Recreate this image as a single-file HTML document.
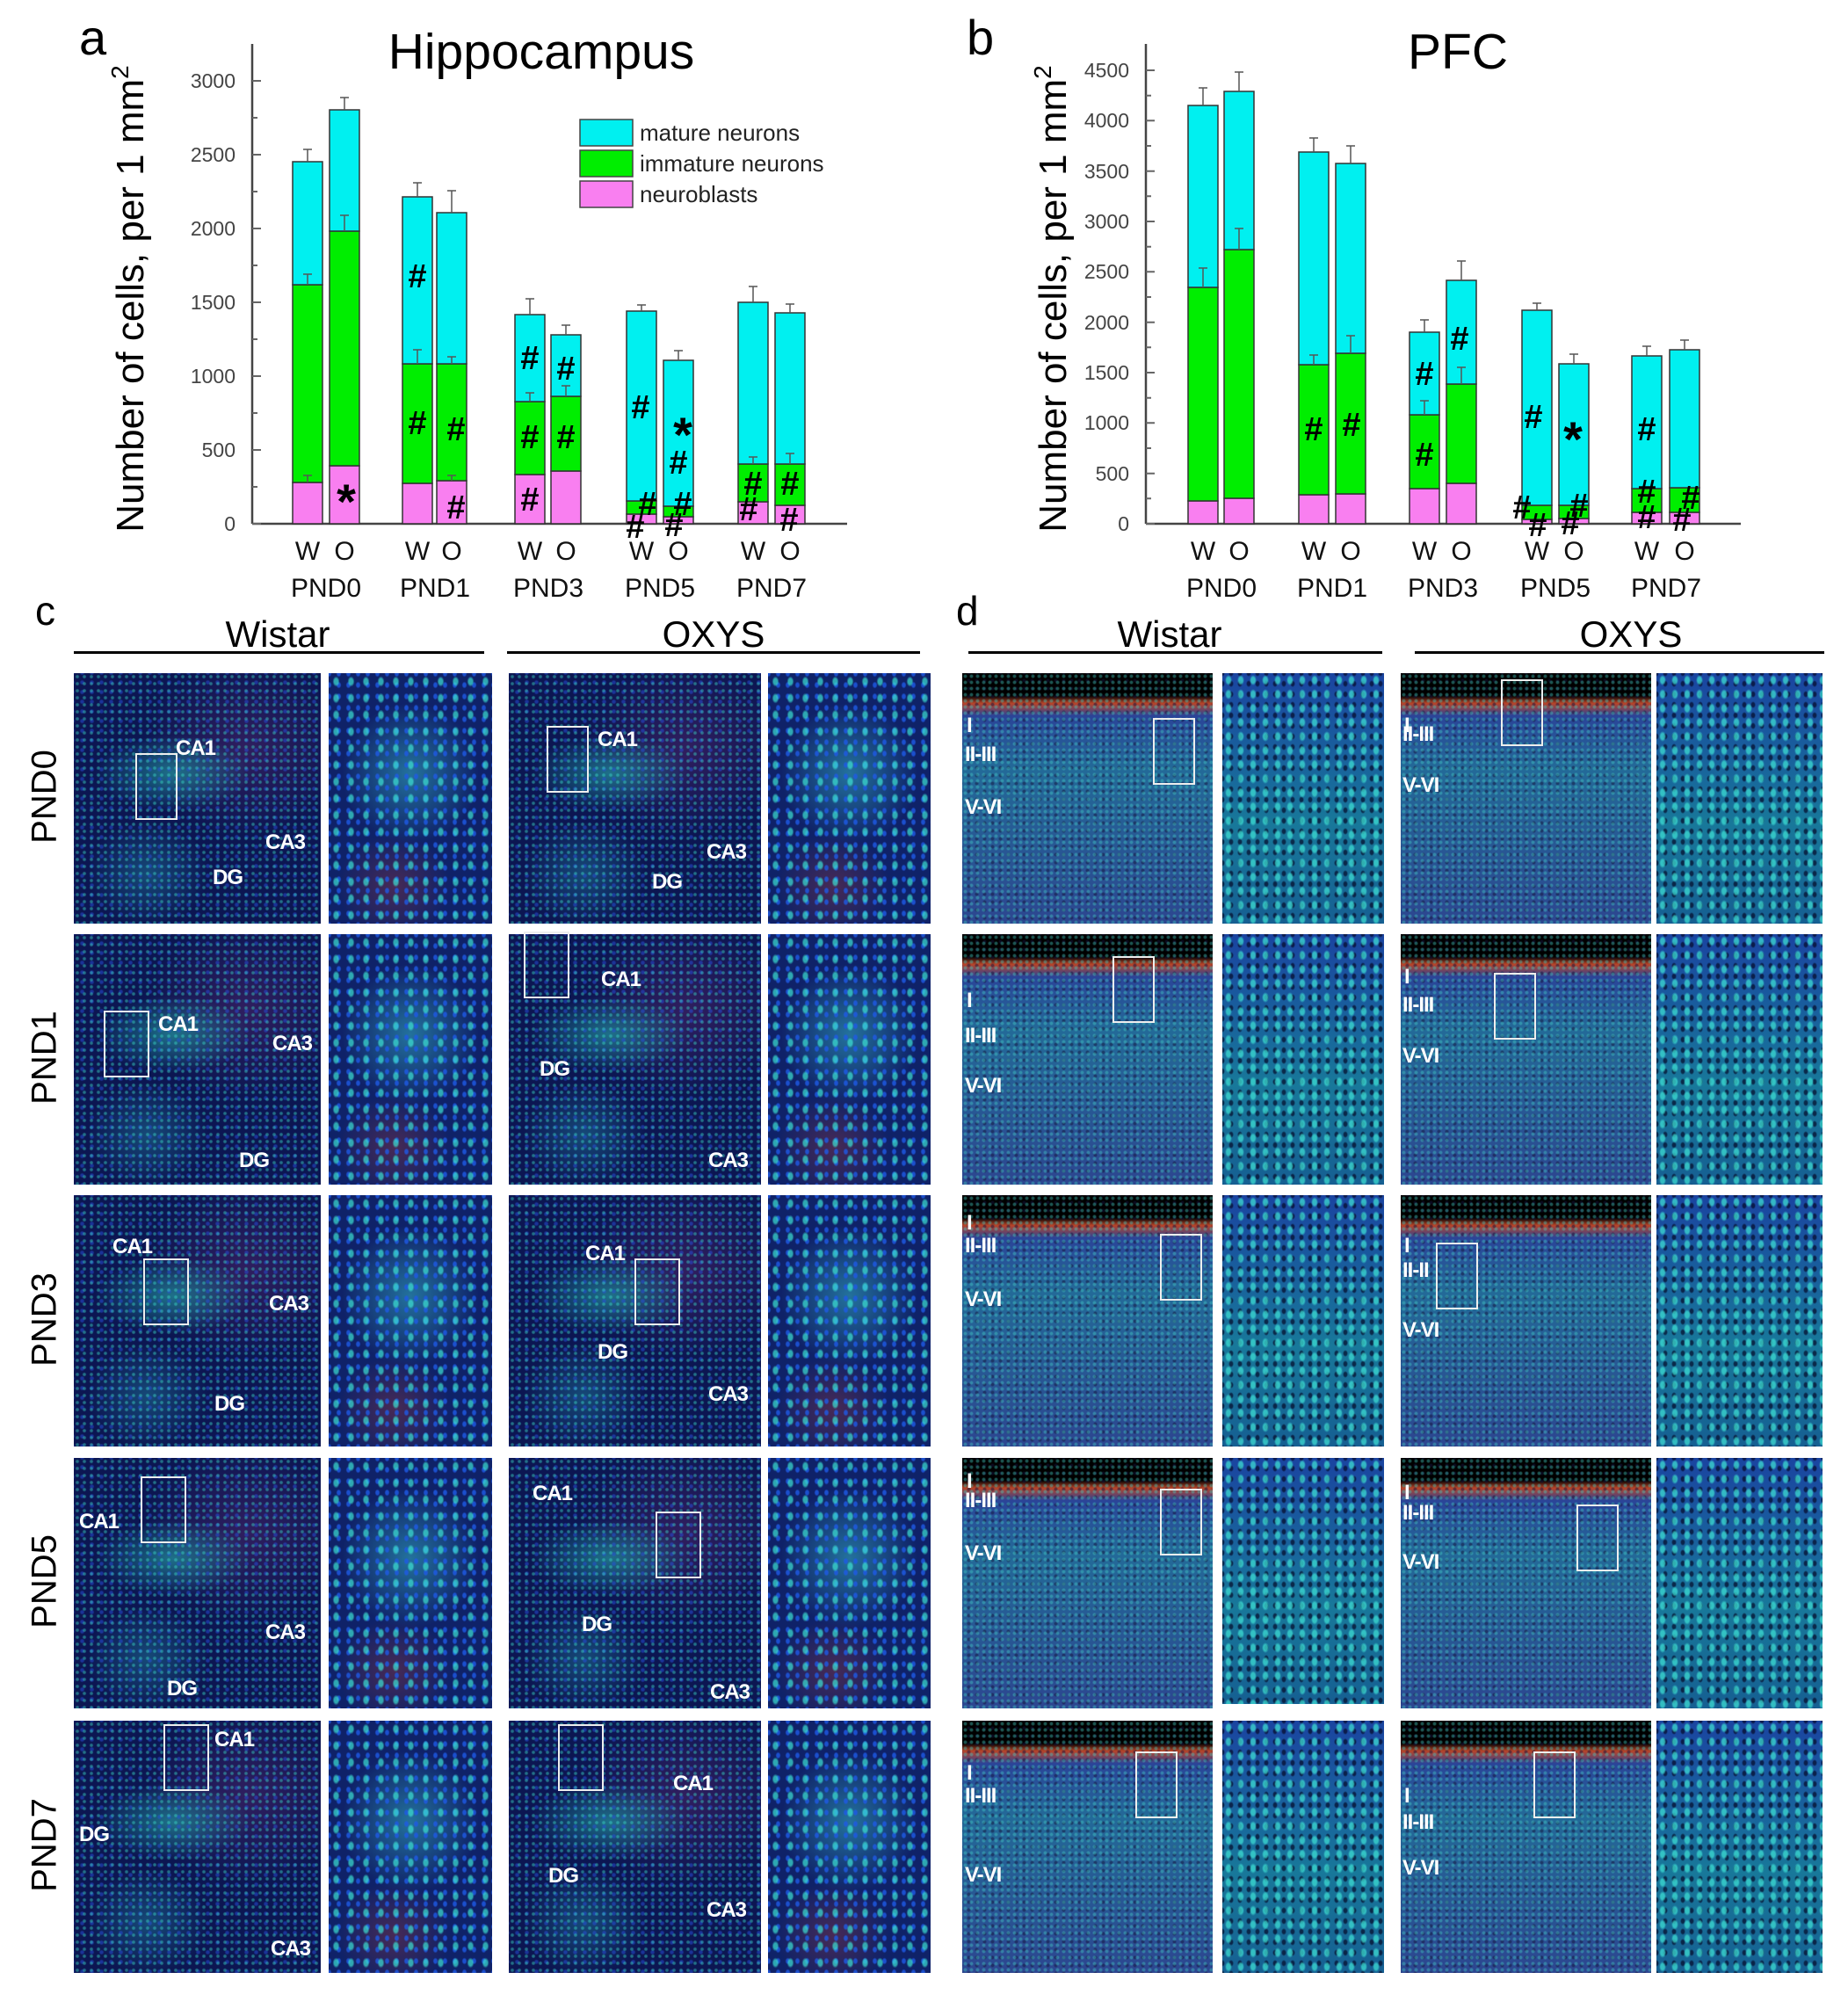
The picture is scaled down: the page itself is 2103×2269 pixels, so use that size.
<!DOCTYPE html>
<html><head><meta charset="utf-8">
<style>
html,body{margin:0;padding:0;background:#fff;}
body{width:2103px;height:2269px;position:relative;overflow:hidden;font-family:"Liberation Sans",sans-serif;}
.p{position:absolute;overflow:hidden;}
.hb{background-color:#0c1652;
background-image:radial-gradient(circle,rgba(60,220,200,.45) 1.2px,transparent 2.5px),
radial-gradient(circle,rgba(40,80,220,.5) 1.5px,transparent 3px),
radial-gradient(ellipse 45% 22% at 40% 40%,rgba(40,200,190,.5),transparent 70%),
radial-gradient(ellipse 35% 30% at 30% 80%,rgba(40,170,190,.35),transparent 70%),
radial-gradient(ellipse 60% 50% at 70% 30%,rgba(90,40,110,.45),transparent 70%);
background-size:8px 8px,11px 11px,100% 100%,100% 100%,100% 100%;background-position:0 0,4px 5px,0 0,0 0,0 0;}
.hs{background-color:#0f2268;
background-image:radial-gradient(ellipse 4px 6px,rgba(60,225,210,.7) 55%,transparent 100%),
radial-gradient(ellipse 3px 4px,rgba(30,90,230,.8) 55%,transparent 100%),
radial-gradient(ellipse 60% 40% at 50% 40%,rgba(60,210,220,.45),transparent 70%),
radial-gradient(ellipse 50% 30% at 40% 85%,rgba(200,60,40,.3),transparent 70%);
background-size:17px 19px,11px 13px,100% 100%,100% 100%;background-position:0 0,6px 7px,0 0,0 0;}
.cb{background-color:#1e3c84;
background-image:radial-gradient(circle,rgba(70,210,200,.4) 1.3px,transparent 2.6px),
radial-gradient(circle,rgba(20,20,60,.5) 1.3px,transparent 2.6px),
linear-gradient(to bottom,#000 0,#000 9%,#b84428 12%,#2a4498 17%,#236a98 38%,#2c4690 100%);
background-size:7px 7px,9px 9px,100% 100%;background-position:0 0,3px 4px,0 0;}
.cs{background-color:#123c88;
background-image:radial-gradient(ellipse 4px 6px,rgba(60,220,210,.75) 55%,transparent 100%),
radial-gradient(ellipse 3px 4px,rgba(5,10,40,.7) 55%,transparent 100%),
linear-gradient(to bottom,#1a44a0,#18789a 60%,#165f92);
background-size:14px 16px,10px 12px,100% 100%;background-position:0 0,5px 6px,0 0;}
.lb{position:absolute;color:#fff;font-weight:bold;font-size:24px;letter-spacing:-1px;}
.bx{position:absolute;border:2px solid #eee;}
.hd{position:absolute;font-size:42px;text-align:center;}
.ln{position:absolute;height:3px;background:#000;}
.rl{position:absolute;font-size:40px;transform:rotate(-90deg);transform-origin:center;width:200px;text-align:center;}
</style></head><body>

<svg width="2103" height="700" style="position:absolute;left:0;top:0" font-family="Liberation Sans, sans-serif">
<text x="90" y="62" font-size="56">a</text>
<text x="616" y="78" font-size="57" text-anchor="middle">Hippocampus</text>
<text x="1100" y="62" font-size="56">b</text>
<text x="1659" y="78" font-size="57" text-anchor="middle">PFC</text>
<text transform="translate(163,340) rotate(-90)" font-size="44" text-anchor="middle">Number of cells, per 1 mm<tspan dy="-17" font-size="28">2</tspan></text>
<text transform="translate(1213,340) rotate(-90)" font-size="44" text-anchor="middle">Number of cells, per 1 mm<tspan dy="-17" font-size="28">2</tspan></text>

<g stroke="#444" stroke-width="2.5" fill="none">
<line x1="287" y1="50" x2="287" y2="596"/><line x1="287" y1="596" x2="964" y2="596"/>
<line x1="1304" y1="50" x2="1304" y2="596"/><line x1="1304" y1="596" x2="1981" y2="596"/>
</g>
<g stroke="#666" stroke-width="2">
<path d="M287 596h10M287 512h10M287 428h10M287 344h10M287 260h10M287 176h10M287 92h10M287 554h6M287 470h6M287 386h6M287 302h6M287 218h6M287 134h6"/>
<path d="M1304 596h10M1304 538.7h10M1304 481.3h10M1304 424h10M1304 366.7h10M1304 309.3h10M1304 252h10M1304 194.7h10M1304 137.3h10M1304 80h10M1304 567.3h6M1304 510h6M1304 452.7h6M1304 395.3h6M1304 338h6M1304 280.7h6M1304 223.3h6M1304 166h6M1304 108.7h6"/>
</g>
<g font-size="23" fill="#444" text-anchor="end">
<text x="268" y="604">0</text><text x="268" y="520">500</text><text x="268" y="436">1000</text><text x="268" y="352">1500</text><text x="268" y="268">2000</text><text x="268" y="184">2500</text><text x="268" y="100">3000</text>
<text x="1285" y="604">0</text><text x="1285" y="547">500</text><text x="1285" y="489">1000</text><text x="1285" y="432">1500</text><text x="1285" y="375">2000</text><text x="1285" y="317">2500</text><text x="1285" y="260">3000</text><text x="1285" y="203">3500</text><text x="1285" y="145">4000</text><text x="1285" y="88">4500</text>
</g>

<g stroke="#333" stroke-width="1.5">
<rect x="333" y="549" width="34" height="47" fill="#f97ff0"/><rect x="333" y="324" width="34" height="225" fill="#00ee00"/><rect x="333" y="184" width="34" height="140" fill="#00f0f0"/>
<rect x="375" y="530" width="34" height="66" fill="#f97ff0"/><rect x="375" y="263" width="34" height="267" fill="#00ee00"/><rect x="375" y="125" width="34" height="138" fill="#00f0f0"/>
<rect x="458" y="550" width="34" height="46" fill="#f97ff0"/><rect x="458" y="414" width="34" height="136" fill="#00ee00"/><rect x="458" y="224" width="34" height="190" fill="#00f0f0"/>
<rect x="497" y="547" width="34" height="49" fill="#f97ff0"/><rect x="497" y="414" width="34" height="133" fill="#00ee00"/><rect x="497" y="242" width="34" height="172" fill="#00f0f0"/>
<rect x="586" y="540" width="34" height="56" fill="#f97ff0"/><rect x="586" y="457" width="34" height="83" fill="#00ee00"/><rect x="586" y="358" width="34" height="99" fill="#00f0f0"/>
<rect x="627" y="536" width="34" height="60" fill="#f97ff0"/><rect x="627" y="451" width="34" height="85" fill="#00ee00"/><rect x="627" y="381" width="34" height="70" fill="#00f0f0"/>
<rect x="713" y="585" width="34" height="11" fill="#f97ff0"/><rect x="713" y="570" width="34" height="15" fill="#00ee00"/><rect x="713" y="354" width="34" height="216" fill="#00f0f0"/>
<rect x="755" y="588" width="34" height="8" fill="#f97ff0"/><rect x="755" y="576" width="34" height="12" fill="#00ee00"/><rect x="755" y="410" width="34" height="166" fill="#00f0f0"/>
<rect x="840" y="571" width="34" height="25" fill="#f97ff0"/><rect x="840" y="528" width="34" height="43" fill="#00ee00"/><rect x="840" y="344" width="34" height="184" fill="#00f0f0"/>
<rect x="882" y="575" width="34" height="21" fill="#f97ff0"/><rect x="882" y="528" width="34" height="47" fill="#00ee00"/><rect x="882" y="356" width="34" height="172" fill="#00f0f0"/>
<rect x="1352" y="570" width="34" height="26" fill="#f97ff0"/><rect x="1352" y="327" width="34" height="243" fill="#00ee00"/><rect x="1352" y="120" width="34" height="207" fill="#00f0f0"/>
<rect x="1393" y="567" width="34" height="29" fill="#f97ff0"/><rect x="1393" y="284" width="34" height="283" fill="#00ee00"/><rect x="1393" y="104" width="34" height="180" fill="#00f0f0"/>
<rect x="1478" y="563" width="34" height="33" fill="#f97ff0"/><rect x="1478" y="415" width="34" height="148" fill="#00ee00"/><rect x="1478" y="173" width="34" height="242" fill="#00f0f0"/>
<rect x="1520" y="562" width="34" height="34" fill="#f97ff0"/><rect x="1520" y="402" width="34" height="160" fill="#00ee00"/><rect x="1520" y="186" width="34" height="216" fill="#00f0f0"/>
<rect x="1604" y="556" width="34" height="40" fill="#f97ff0"/><rect x="1604" y="472" width="34" height="84" fill="#00ee00"/><rect x="1604" y="378" width="34" height="94" fill="#00f0f0"/>
<rect x="1646" y="550" width="34" height="46" fill="#f97ff0"/><rect x="1646" y="437" width="34" height="113" fill="#00ee00"/><rect x="1646" y="319" width="34" height="118" fill="#00f0f0"/>
<rect x="1732" y="591" width="34" height="5" fill="#f97ff0"/><rect x="1732" y="575" width="34" height="16" fill="#00ee00"/><rect x="1732" y="353" width="34" height="222" fill="#00f0f0"/>
<rect x="1774" y="590" width="34" height="6" fill="#f97ff0"/><rect x="1774" y="575" width="34" height="15" fill="#00ee00"/><rect x="1774" y="414" width="34" height="161" fill="#00f0f0"/>
<rect x="1857" y="583" width="34" height="13" fill="#f97ff0"/><rect x="1857" y="556" width="34" height="27" fill="#00ee00"/><rect x="1857" y="405" width="34" height="151" fill="#00f0f0"/>
<rect x="1900" y="583" width="34" height="13" fill="#f97ff0"/><rect x="1900" y="555" width="34" height="28" fill="#00ee00"/><rect x="1900" y="398" width="34" height="157" fill="#00f0f0"/>
</g>
<g stroke="#555" stroke-width="1.5" fill="none">
<path d="M350 184v-14M345 170h10M350 324v-12M345 312h10M350 549v-8M345 541h10"/>
<path d="M392 125v-14M387 111h10M392 263v-18M387 245h10"/>
<path d="M475 224v-16M470 208h10M475 414v-16M470 398h10"/>
<path d="M514 242v-25M509 217h10M514 414v-8M509 406h10M514 547v-6M509 541h10"/>
<path d="M603 358v-18M598 340h10M603 457v-10M598 447h10"/>
<path d="M644 381v-11M639 370h10M644 451v-12M639 439h10"/>
<path d="M730 354v-7M725 347h10M772 410v-11M767 399h10"/>
<path d="M857 344v-18M852 326h10M857 528v-8M852 520h10M899 356v-10M894 346h10M899 528v-12M894 516h10"/>
<path d="M1369 120v-20M1364 100h10M1369 327v-22M1364 305h10M1410 104v-22M1405 82h10M1410 284v-24M1405 260h10"/>
<path d="M1495 173v-16M1490 157h10M1495 415v-11M1490 404h10M1537 186v-20M1532 166h10M1537 402v-20M1532 382h10"/>
<path d="M1621 378v-14M1616 364h10M1621 472v-16M1616 456h10M1663 319v-22M1658 297h10M1663 437v-19M1658 418h10"/>
<path d="M1749 353v-8M1744 345h10M1791 414v-11M1786 403h10M1874 405v-11M1869 394h10M1917 398v-11M1912 387h10"/>
</g>
<g stroke="#444" stroke-width="1.5">
<rect x="660" y="136" width="60" height="30" fill="#00f0f0"/>
<rect x="660" y="171" width="60" height="30" fill="#00ee00"/>
<rect x="660" y="206" width="60" height="30" fill="#f97ff0"/>
</g>
<g font-size="26" fill="#222">
<text x="728" y="160">mature neurons</text>
<text x="728" y="195">immature neurons</text>
<text x="728" y="230">neuroblasts</text>
</g>
<g font-size="38" font-weight="bold" text-anchor="middle" dominant-baseline="central" fill="#000">
<text x="475" y="315">#</text><text x="475" y="482">#</text><text x="519" y="489">#</text><text x="519" y="578">#</text>
<text x="603" y="408">#</text><text x="603" y="498">#</text><text x="603" y="569">#</text><text x="644" y="420">#</text><text x="644" y="498">#</text>
<text x="729" y="464">#</text><text x="737" y="574">#</text><text x="723" y="600">#</text>
<text x="772" y="527">#</text><text x="777" y="574">#</text><text x="767" y="598">#</text>
<text x="857" y="551">#</text><text x="852" y="580">#</text><text x="899" y="551">#</text><text x="898" y="592">#</text>
<text x="1495" y="489">#</text><text x="1538" y="484">#</text>
<text x="1621" y="426">#</text><text x="1621" y="518">#</text><text x="1661" y="386">#</text>
<text x="1745" y="475">#</text><text x="1732" y="578">#</text><text x="1750" y="598">#</text>
<text x="1797" y="576">#</text><text x="1787" y="596">#</text>
<text x="1874" y="489">#</text><text x="1874" y="560">#</text><text x="1874" y="589">#</text><text x="1924" y="567">#</text><text x="1914" y="592">#</text>
</g>
<g font-size="56" font-weight="bold" text-anchor="middle" fill="#000">
<text x="394" y="590">*</text><text x="777" y="514">*</text><text x="1790" y="519">*</text>
</g>
<g font-size="30" text-anchor="middle" fill="#111">
<text x="350" y="637">W</text><text x="392" y="637">O</text><text x="475" y="637">W</text><text x="514" y="637">O</text><text x="603" y="637">W</text><text x="644" y="637">O</text><text x="730" y="637">W</text><text x="772" y="637">O</text><text x="857" y="637">W</text><text x="899" y="637">O</text>
<text x="371" y="679">PND0</text><text x="495" y="679">PND1</text><text x="624" y="679">PND3</text><text x="751" y="679">PND5</text><text x="878" y="679">PND7</text>
<text x="1369" y="637">W</text><text x="1410" y="637">O</text><text x="1495" y="637">W</text><text x="1537" y="637">O</text><text x="1621" y="637">W</text><text x="1663" y="637">O</text><text x="1749" y="637">W</text><text x="1791" y="637">O</text><text x="1874" y="637">W</text><text x="1917" y="637">O</text>
<text x="1390" y="679">PND0</text><text x="1516" y="679">PND1</text><text x="1642" y="679">PND3</text><text x="1770" y="679">PND5</text><text x="1896" y="679">PND7</text>
</g>
</svg>

<div style="position:absolute;left:40px;top:668px;font-size:46px">c</div>
<div style="position:absolute;left:1088px;top:668px;font-size:46px">d</div>
<div class="hd" style="left:216px;top:698px;width:200px">Wistar</div>
<div class="hd" style="left:712px;top:698px;width:200px">OXYS</div>
<div class="hd" style="left:1231px;top:698px;width:200px">Wistar</div>
<div class="hd" style="left:1756px;top:698px;width:200px">OXYS</div>
<div class="ln" style="left:84px;top:741px;width:467px"></div>
<div class="ln" style="left:577px;top:741px;width:470px"></div>
<div class="ln" style="left:1102px;top:741px;width:471px"></div>
<div class="ln" style="left:1610px;top:741px;width:466px"></div>

<div class="rl" style="left:-49px;top:884px">PND0</div>
<div class="rl" style="left:-49px;top:1181px">PND1</div>
<div class="rl" style="left:-49px;top:1479px">PND3</div>
<div class="rl" style="left:-49px;top:1777px">PND5</div>
<div class="rl" style="left:-49px;top:2077px">PND7</div>

<div class="p hb" style="left:84px;top:766px;width:281px;height:285px"></div>
<div class="p hs" style="left:374px;top:766px;width:186px;height:285px"></div>
<div class="p hb" style="left:579px;top:766px;width:287px;height:285px"></div>
<div class="p hs" style="left:874px;top:766px;width:185px;height:285px"></div>
<div class="p cb" style="left:1095px;top:766px;width:285px;height:285px"></div>
<div class="p cs" style="left:1391px;top:766px;width:184px;height:285px"></div>
<div class="p cb" style="left:1594px;top:766px;width:285px;height:285px"></div>
<div class="p cs" style="left:1885px;top:766px;width:189px;height:285px"></div>
<div class="p hb" style="left:84px;top:1063px;width:281px;height:285px"></div>
<div class="p hs" style="left:374px;top:1063px;width:186px;height:285px"></div>
<div class="p hb" style="left:579px;top:1063px;width:287px;height:285px"></div>
<div class="p hs" style="left:874px;top:1063px;width:185px;height:285px"></div>
<div class="p cb" style="left:1095px;top:1063px;width:285px;height:285px"></div>
<div class="p cs" style="left:1391px;top:1063px;width:184px;height:285px"></div>
<div class="p cb" style="left:1594px;top:1063px;width:285px;height:285px"></div>
<div class="p cs" style="left:1885px;top:1063px;width:189px;height:285px"></div>
<div class="p hb" style="left:84px;top:1360px;width:281px;height:286px"></div>
<div class="p hs" style="left:374px;top:1360px;width:186px;height:286px"></div>
<div class="p hb" style="left:579px;top:1360px;width:287px;height:286px"></div>
<div class="p hs" style="left:874px;top:1360px;width:185px;height:286px"></div>
<div class="p cb" style="left:1095px;top:1360px;width:285px;height:286px"></div>
<div class="p cs" style="left:1391px;top:1360px;width:184px;height:286px"></div>
<div class="p cb" style="left:1594px;top:1360px;width:285px;height:286px"></div>
<div class="p cs" style="left:1885px;top:1360px;width:189px;height:286px"></div>
<div class="p hb" style="left:84px;top:1659px;width:281px;height:285px"></div>
<div class="p hs" style="left:374px;top:1659px;width:186px;height:285px"></div>
<div class="p hb" style="left:579px;top:1659px;width:287px;height:285px"></div>
<div class="p hs" style="left:874px;top:1659px;width:185px;height:285px"></div>
<div class="p cb" style="left:1095px;top:1659px;width:285px;height:285px"></div>
<div class="p cs" style="left:1391px;top:1659px;width:184px;height:280px"></div>
<div class="p cb" style="left:1594px;top:1659px;width:285px;height:285px"></div>
<div class="p cs" style="left:1885px;top:1659px;width:189px;height:285px"></div>
<div class="p hb" style="left:84px;top:1958px;width:281px;height:287px"></div>
<div class="p hs" style="left:374px;top:1958px;width:186px;height:287px"></div>
<div class="p hb" style="left:579px;top:1958px;width:287px;height:287px"></div>
<div class="p hs" style="left:874px;top:1958px;width:185px;height:287px"></div>
<div class="p cb" style="left:1095px;top:1958px;width:285px;height:287px"></div>
<div class="p cs" style="left:1391px;top:1958px;width:184px;height:287px"></div>
<div class="p cb" style="left:1594px;top:1958px;width:285px;height:287px"></div>
<div class="p cs" style="left:1885px;top:1958px;width:189px;height:287px"></div>

<div class="lb" style="left:200px;top:838px">CA1</div><div class="lb" style="left:302px;top:945px">CA3</div><div class="lb" style="left:242px;top:985px">DG</div>
<div class="bx" style="left:154px;top:857px;width:44px;height:72px"></div>
<div class="lb" style="left:680px;top:828px">CA1</div><div class="lb" style="left:804px;top:956px">CA3</div><div class="lb" style="left:742px;top:990px">DG</div>
<div class="bx" style="left:622px;top:826px;width:44px;height:72px"></div>
<div class="lb" style="left:180px;top:1152px">CA1</div><div class="lb" style="left:310px;top:1174px">CA3</div><div class="lb" style="left:272px;top:1307px">DG</div>
<div class="bx" style="left:118px;top:1150px;width:48px;height:72px"></div>
<div class="lb" style="left:684px;top:1101px">CA1</div><div class="lb" style="left:614px;top:1203px">DG</div><div class="lb" style="left:806px;top:1307px">CA3</div>
<div class="bx" style="left:596px;top:1060px;width:48px;height:72px"></div>
<div class="lb" style="left:128px;top:1405px">CA1</div><div class="lb" style="left:306px;top:1470px">CA3</div><div class="lb" style="left:244px;top:1584px">DG</div>
<div class="bx" style="left:163px;top:1432px;width:48px;height:72px"></div>
<div class="lb" style="left:666px;top:1413px">CA1</div><div class="lb" style="left:680px;top:1525px">DG</div><div class="lb" style="left:806px;top:1573px">CA3</div>
<div class="bx" style="left:722px;top:1432px;width:48px;height:72px"></div>
<div class="lb" style="left:90px;top:1718px">CA1</div><div class="lb" style="left:302px;top:1844px">CA3</div><div class="lb" style="left:190px;top:1908px">DG</div>
<div class="bx" style="left:160px;top:1680px;width:48px;height:72px"></div>
<div class="lb" style="left:606px;top:1686px">CA1</div><div class="lb" style="left:662px;top:1835px">DG</div><div class="lb" style="left:808px;top:1912px">CA3</div>
<div class="bx" style="left:746px;top:1720px;width:48px;height:72px"></div>
<div class="lb" style="left:244px;top:1966px">CA1</div><div class="lb" style="left:90px;top:2074px">DG</div><div class="lb" style="left:308px;top:2204px">CA3</div>
<div class="bx" style="left:186px;top:1962px;width:48px;height:72px"></div>
<div class="lb" style="left:766px;top:2016px">CA1</div><div class="lb" style="left:624px;top:2121px">DG</div><div class="lb" style="left:804px;top:2160px">CA3</div>
<div class="bx" style="left:635px;top:1962px;width:48px;height:72px"></div>
<div class="lb" style="left:1100px;top:812px">I</div><div class="lb" style="left:1098px;top:845px">II-III</div><div class="lb" style="left:1098px;top:905px">V-VI</div>
<div class="bx" style="left:1312px;top:817px;width:44px;height:72px"></div>
<div class="lb" style="left:1598px;top:812px">I</div><div class="lb" style="left:1596px;top:822px">II-III</div><div class="lb" style="left:1596px;top:880px">V-VI</div>
<div class="bx" style="left:1708px;top:773px;width:44px;height:72px"></div>
<div class="lb" style="left:1100px;top:1125px">I</div><div class="lb" style="left:1098px;top:1165px">II-III</div><div class="lb" style="left:1098px;top:1222px">V-VI</div>
<div class="bx" style="left:1266px;top:1088px;width:44px;height:72px"></div>
<div class="lb" style="left:1598px;top:1098px">I</div><div class="lb" style="left:1596px;top:1130px">II-III</div><div class="lb" style="left:1596px;top:1188px">V-VI</div>
<div class="bx" style="left:1700px;top:1107px;width:44px;height:72px"></div>
<div class="lb" style="left:1100px;top:1378px">I</div><div class="lb" style="left:1098px;top:1404px">II-III</div><div class="lb" style="left:1098px;top:1465px">V-VI</div>
<div class="bx" style="left:1320px;top:1404px;width:44px;height:72px"></div>
<div class="lb" style="left:1598px;top:1404px">I</div><div class="lb" style="left:1596px;top:1432px">II-II</div><div class="lb" style="left:1596px;top:1500px">V-VI</div>
<div class="bx" style="left:1634px;top:1414px;width:44px;height:72px"></div>
<div class="lb" style="left:1100px;top:1672px">I</div><div class="lb" style="left:1098px;top:1694px">II-III</div><div class="lb" style="left:1098px;top:1754px">V-VI</div>
<div class="bx" style="left:1320px;top:1694px;width:44px;height:72px"></div>
<div class="lb" style="left:1598px;top:1685px">I</div><div class="lb" style="left:1596px;top:1708px">II-III</div><div class="lb" style="left:1596px;top:1764px">V-VI</div>
<div class="bx" style="left:1794px;top:1712px;width:44px;height:72px"></div>
<div class="lb" style="left:1100px;top:2004px">I</div><div class="lb" style="left:1098px;top:2030px">II-III</div><div class="lb" style="left:1098px;top:2120px">V-VI</div>
<div class="bx" style="left:1292px;top:1993px;width:44px;height:72px"></div>
<div class="lb" style="left:1598px;top:2030px">I</div><div class="lb" style="left:1596px;top:2060px">II-III</div><div class="lb" style="left:1596px;top:2112px">V-VI</div>
<div class="bx" style="left:1745px;top:1993px;width:44px;height:72px"></div>
</body></html>
